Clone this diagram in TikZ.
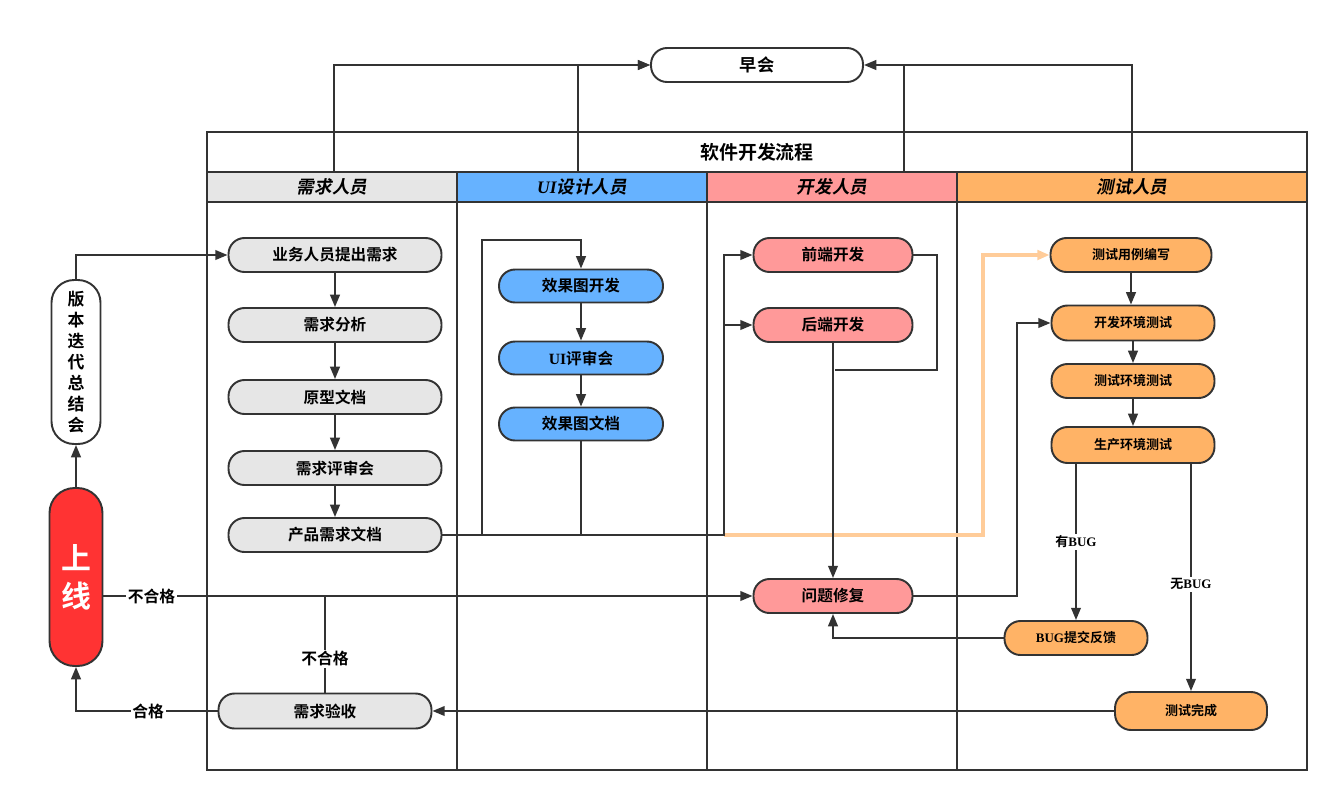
\documentclass[tikz,border=0pt]{standalone}
\usepackage{fontspec}
\setmainfont{Noto Sans CJK SC}[BoldFont={Noto Sans CJK SC Bold}]
\newfontfamily\lat{Liberation Serif}
\newfontfamily\cjkslant{Noto Sans CJK SC Bold}[FakeSlant=0.2]
\usepackage{tikz}
\usetikzlibrary{arrows.meta, positioning, calc}
\definecolor{linegray}{HTML}{333333}
\definecolor{reqgray}{HTML}{E6E6E6}
\definecolor{uiblue}{HTML}{66B2FF}
\definecolor{devpink}{HTML}{FF9999}
\definecolor{testorange}{HTML}{FFB366}
\definecolor{golive}{HTML}{FF3333}
\definecolor{peach}{HTML}{FFCC99}

\tikzset{
  box/.style={draw=linegray, line width=1.1pt, rounded corners=0.32cm,
    font=\bfseries\fontsize{8.9}{11}\selectfont, inner sep=0pt},
  reqbox/.style={box, fill=reqgray, minimum width=4.26cm, minimum height=0.68cm},
  uibox/.style={box, fill=uiblue, minimum width=3.28cm, minimum height=0.66cm},
  devbox/.style={box, fill=devpink, minimum width=3.18cm, minimum height=0.68cm},
  testbox/.style={box, fill=testorange, minimum width=3.26cm, minimum height=0.7cm,
    font=\bfseries\fontsize{7.4}{9}\selectfont},
  lanehead/.style={font=\cjkslant\fontsize{10}{12}\selectfont},
  lbl/.style={fill=white, inner sep=1pt, font=\bfseries\fontsize{9}{11}\selectfont},
  smalllbl/.style={fill=white, inner sep=1pt, font=\bfseries\fontsize{7.4}{9}\selectfont},
  flow/.style={draw=linegray, line width=1.1pt},
}

\begin{document}
\begin{tikzpicture}[x=0.02cm, y=-0.02cm, >={Triangle[length=7pt,width=5.5pt]}]
    \useasboundingbox (0,0) rectangle (1339,802);

    % swimlane pool
    \fill[reqgray]    (207,172) rectangle (457,202);
    \fill[uiblue]     (457,172) rectangle (707,202);
    \fill[devpink]    (707,172) rectangle (957,202);
    \fill[testorange] (957,172) rectangle (1307,202);
    \draw[flow] (207,132) rectangle (1307,770);
    \draw[flow] (207,172) -- (1307,172);
    \draw[flow] (207,202) -- (1307,202);
    \foreach \x in {457,707,957}
      \draw[flow] (\x,172) -- (\x,770);

    \node[font=\bfseries\fontsize{10.8}{13}\selectfont] (title) at (757,152) {软件开发流程};
    \node[lanehead] (h_req)  at (332,187) {需求人员};
    \node[lanehead] (h_ui)   at (582,187) {{\lat\bfseries\itshape UI}设计人员};
    \node[lanehead] (h_dev)  at (832,187) {开发人员};
    \node[lanehead] (h_test) at (1132,187) {测试人员};

    \coordinate (t_req)  at (334,172);
    \coordinate (t_ui)   at (578,172);
    \coordinate (t_dev)  at (904,172);
    \coordinate (t_test) at (1132,172);

    % nodes
    \node[box, fill=white, minimum width=4.24cm, minimum height=0.68cm,
      font=\bfseries\fontsize{9.8}{11}\selectfont] (zh) at (757,65) {早会};

    \node[reqbox] (yw) at (335,255) {业务人员提出需求};
    \node[reqbox] (fx) at (335,325) {需求分析};
    \node[reqbox] (yx) at (335,397) {原型文档};
    \node[reqbox] (ps) at (335,468) {需求评审会};
    \node[reqbox] (cp) at (335,535) {产品需求文档};
    \node[reqbox, minimum height=0.7cm] (ys) at (325,711) {需求验收};

    \node[uibox] (xg) at (581,286) {效果图开发};
    \node[uibox] (ui) at (581,358) {{\lat\bfseries UI}评审会};
    \node[uibox] (xw) at (581,424) {效果图文档};

    \node[devbox] (qd) at (833,255) {前端开发};
    \node[devbox] (hd) at (833,325) {后端开发};
    \node[devbox] (wt) at (833,596) {问题修复};

    \node[testbox, minimum width=3.22cm, minimum height=0.68cm] (cy) at (1131,255) {测试用例编写};
    \node[testbox] (kf) at (1133,323) {开发环境测试};
    \node[testbox, minimum height=0.68cm] (cs) at (1133,381) {测试环境测试};
    \node[testbox, minimum height=0.72cm] (sc) at (1133,445) {生产环境测试};
    \node[testbox, minimum width=2.86cm, minimum height=0.68cm] (bg) at (1076,638) {{\lat\bfseries BUG}提交反馈};
    \node[testbox, minimum width=3.04cm, minimum height=0.76cm] (wc) at (1191,711) {测试完成};

    \node[box, fill=white, rounded corners=0.45cm, minimum width=0.98cm, minimum height=3.28cm,
      align=center, font=\bfseries\fontsize{9.6}{11.9}\selectfont] (ban) at (76,362)
      {版\\本\\迭\\代\\总\\结\\会};
    \node[box, fill=golive, text=white, rounded corners=0.5cm, minimum width=1.06cm, minimum height=3.56cm,
      align=center, font=\bfseries\fontsize{17}{21.5}\selectfont] (sx) at (76,577) {上\\线};

    % morning meeting
    \draw[flow, ->] (t_req) |- (zh.west);
    \draw[flow, ->] (t_ui) |- (zh.west);
    \draw[flow, ->] (t_test) |- (zh.east);
    \draw[flow] (t_dev) -- (t_dev |- zh.east);

    % requirement lane
    \draw[flow, ->] (ban.north) |- (yw.west);
    \draw[flow, ->] (sx.north) -- (ban.south);
    \draw[flow, ->] (yw) -- (fx);
    \draw[flow, ->] (fx) -- (yx);
    \draw[flow, ->] (yx) -- (ps);
    \draw[flow, ->] (ps) -- (cp);

    % ui lane
    \draw[flow, ->] (cp.east) -| (482,240) -| (xg.north);
    \draw[flow, ->] (xg) -- (ui);
    \draw[flow, ->] (ui) -- (xw);

    % to development and test
    \draw[peach, line width=2pt, ->] (724,535) -| (983,255) -- (cy.west);
    \draw[flow] (xw.south) |- (724,535);
    \draw[flow, ->] (cp.east) -| (724,255) -- (qd.west);
    \draw[flow, ->] (724,325) -- (hd.west);

    % development lane
    \draw[flow] (qd.east) -| (937,370) -- (835,370);
    \draw[flow, ->] (hd.south) -- (wt.north);
    \draw[flow, ->] (wt.east) -| (1017,323) -- (kf.west);

    % test lane
    \draw[flow, ->] (cy) -- (cy |- kf.north);
    \draw[flow, ->] (kf) -- (cs);
    \draw[flow, ->] (cs) -- (sc);
    \draw[flow, ->] (bg.north |- sc.south) -- node[smalllbl, pos=0.5]{有{\lat\bfseries BUG}} (bg.north);
    \draw[flow, ->] (wc.north |- sc.south) -- node[smalllbl, pos=0.53]{无{\lat\bfseries BUG}} (wc.north);
    \draw[flow, ->] (bg.west) -| (wt.south);
    \draw[flow, ->] (wc.west) -- (ys.east);

    % acceptance
    \draw[flow, ->] (sx.east |- wt.west) -- node[lbl, pos=0.074]{不合格} (wt.west);
    \draw[flow] (ys.north) -- node[lbl, pos=0.35]{不合格} (ys.north |- wt.west);
    \draw[flow, ->] (ys.west) -| node[lbl, pos=0.245]{合格} (sx.south);
\end{tikzpicture}
\end{document}
